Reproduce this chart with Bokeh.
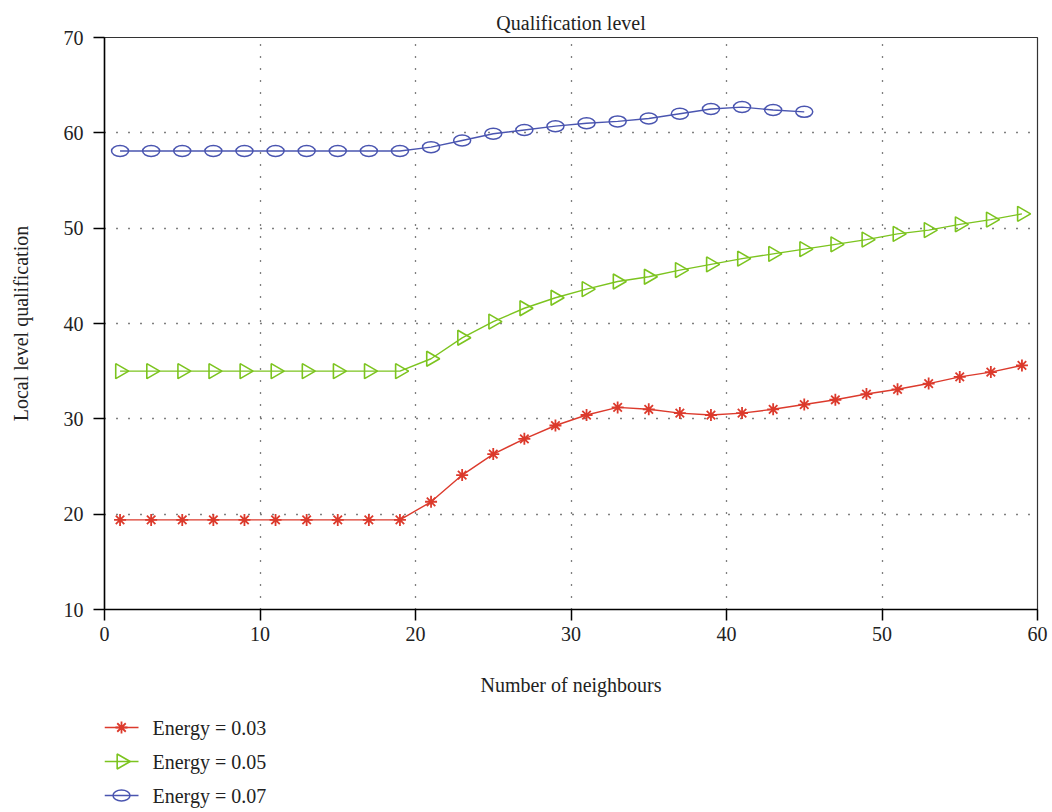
import numpy as np
from bokeh.plotting import figure
from bokeh.layouts import column
from bokeh.models import FixedTicker, Range1d
from bokeh.core.properties import value
from bokeh.embed import file_html
from bokeh.resources import INLINE

neighbours_a = list(range(1, 60, 2))
energy_003 = [19.4, 19.4, 19.4, 19.4, 19.4, 19.4, 19.4, 19.4, 19.4, 19.4,
              21.3, 24.1, 26.3, 27.9, 29.3, 30.4, 31.2, 31.0, 30.6, 30.4,
              30.6, 31.0, 31.5, 32.0, 32.6, 33.1, 33.7, 34.4, 34.9, 35.6]
energy_005 = [35.0, 35.0, 35.0, 35.0, 35.0, 35.0, 35.0, 35.0, 35.0, 35.0,
              36.3, 38.5, 40.2, 41.6, 42.7, 43.6, 44.4, 44.9, 45.6, 46.2,
              46.8, 47.3, 47.8, 48.3, 48.8, 49.4, 49.8, 50.4, 50.9, 51.5]
neighbours_b = list(range(1, 46, 2))
energy_007 = [58.1, 58.1, 58.1, 58.1, 58.1, 58.1, 58.1, 58.1, 58.1, 58.1,
              58.5, 59.2, 59.9, 60.3, 60.7, 61.0, 61.2, 61.5, 62.0, 62.5,
              62.7, 62.4, 62.2]
labels = ["Energy = 0.03", "Energy = 0.05", "Energy = 0.07"]
x_ticks = [0, 10, 20, 30, 40, 50, 60]
y_ticks = [10, 20, 30, 40, 50, 60, 70]

RED = "#dc3a2c"
GREEN = "#7cc41f"
BLUE = "#4a55b0"
FONT = "Liberation Serif"
FS = "20px"
W = 1048
BL, BR = 104, 11
FW = W - BL - BR

p = figure(width=W, height=704, output_backend="svg", toolbar_location=None,
           x_range=Range1d(0, 60), y_range=Range1d(10, 70),
           title="Qualification level",
           min_border_left=BL, min_border_right=BR, min_border_top=37,
           min_border_bottom=95)

p.title.align = "center"
p.title.text_font = FONT
p.title.text_font_size = FS
p.title.text_font_style = "normal"
p.title.text_color = "#222222"
p.title.offset = 0
p.title.standoff = 8

p.outline_line_color = "#333333"
p.outline_line_width = 1.2

for ax in (p.xaxis[0], p.yaxis[0]):
    ax.axis_line_color = "black"
    ax.axis_line_width = 1.5
    ax.major_tick_line_color = "black"
    ax.major_tick_line_width = 1.5
    ax.major_tick_in = 0
    ax.major_tick_out = 11
    ax.minor_tick_line_color = None
    ax.major_label_text_font = FONT
    ax.major_label_text_font_size = FS
    ax.major_label_text_color = "#222222"
    ax.axis_label_text_font = FONT
    ax.axis_label_text_font_size = FS
    ax.axis_label_text_font_style = "normal"
    ax.axis_label_text_color = "#222222"

p.xaxis.ticker = FixedTicker(ticks=x_ticks)
p.yaxis.ticker = FixedTicker(ticks=y_ticks)
p.xaxis.axis_label = "Number of neighbours"
p.yaxis.axis_label = "Local level qualification"
p.xaxis.major_label_standoff = 6
p.yaxis.major_label_standoff = 10
p.xaxis.axis_label_standoff = 30
p.yaxis.axis_label_standoff = 29

p.xgrid.ticker = FixedTicker(ticks=x_ticks)
p.ygrid.ticker = FixedTicker(ticks=y_ticks)
for g in (p.xgrid[0], p.ygrid[0]):
    g.grid_line_color = "black"
    g.grid_line_width = 1.3
    g.grid_line_dash = "1 11"

# red series
p.line(neighbours_a, energy_003, line_color=RED, line_width=1.4)
p.scatter(neighbours_a, energy_003, marker="asterisk", size=12,
          line_color=RED, line_width=1.8)
# green series
p.line(neighbours_a, energy_005, line_color=GREEN, line_width=1.4)
p.scatter(neighbours_a, energy_005, marker="triangle", size=15,
          angle=-np.pi / 2, line_color=GREEN, fill_color=None, line_width=1.6)
# blue series
p.line(neighbours_b, energy_007, line_color=BLUE, line_width=1.4)
p.ellipse(neighbours_b, energy_007, width=17, height=11,
          width_units="screen", height_units="screen",
          line_color=BLUE, fill_color=None, line_width=1.5)

# ---- legend panel (separate figure below the chart, frame aligned) ----
LH = 106
q = figure(width=W, height=LH, output_backend="svg", toolbar_location=None,
           x_range=Range1d(0, FW), y_range=Range1d(LH, 0),
           x_axis_type=None, y_axis_type=None,
           min_border_left=BL, min_border_right=BR, min_border_top=0,
           min_border_bottom=0)
q.grid.visible = False
q.outline_line_color = None

row_y = [23 + 34 * i for i in range(3)]
sw_x0, sw_x1 = 0, 34
sw_xm = (sw_x0 + sw_x1) / 2
colors = [RED, GREEN, BLUE]
for yy, c in zip(row_y, colors):
    q.segment(x0=[sw_x0], y0=[yy], x1=[sw_x1], y1=[yy], line_color=c, line_width=1.4)
q.scatter([sw_xm], [row_y[0]], marker="asterisk", size=12, line_color=RED, line_width=1.8)
q.scatter([sw_xm], [row_y[1]], marker="triangle", size=15, angle=-np.pi / 2,
          line_color=GREEN, fill_color=None, line_width=1.6)
q.ellipse([sw_xm], [row_y[2]], width=17, height=11, width_units="screen",
          height_units="screen", line_color=BLUE, fill_color=None, line_width=1.5)
q.text(x=[48] * 3, y=row_y, text=labels, text_font=value(FONT),
       text_font_size=FS, text_baseline="middle", text_align="left",
       text_color="#222222")

layout = column(p, q, spacing=0)
open("out.html", "w").write(file_html(layout, INLINE))
